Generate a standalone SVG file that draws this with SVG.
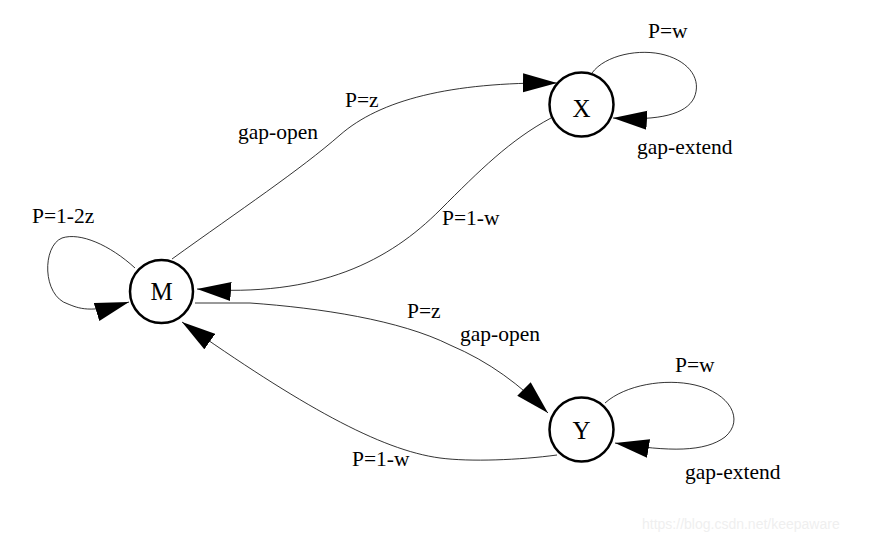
<svg xmlns="http://www.w3.org/2000/svg" width="873" height="542" viewBox="0 0 873 542">
<style>
.node{fill:#fff;stroke:#000;stroke-width:2.5}
.nl{font-family:"Liberation Serif",serif;font-size:25px;text-anchor:middle;fill:#000}
.lbl{font-family:"Liberation Serif",serif;font-size:21.5px;fill:#000}
.edge{fill:none;stroke:#000;stroke-width:0.8;marker-end:url(#ah)}
.wm{font-family:"Liberation Sans",sans-serif;font-size:14px;fill:#efefef}
</style>
<defs>
<marker id="ah" markerUnits="userSpaceOnUse" markerWidth="36" markerHeight="20" refX="34" refY="9.5" orient="auto" viewBox="0 0 36 20">
<path d="M0,0 L34,9.5 L0,19 z" fill="#000"/>
</marker>
</defs>
<rect width="873" height="542" fill="#fff"/>
<g id="connectors">
<path class="edge" d="M135,268 C110,245 80,232 62,238 C42,246 42,296 68,304 C78,308 90,314 129,302"/>
<path class="edge" d="M172,259 C240,210 300,170 340,135 C380,100 450,82 557,83"/>
<path class="edge" d="M551,118 C510,140 480,170 440,210 C390,260 320,298 197,289"/>
<path class="edge" d="M195,303 L250,303 C320,308 400,320 450,345 C490,362 520,385 548,413"/>
<path class="edge" d="M557,455 C520,460 470,462 440,458 C380,450 300,405 182,322"/>
<path class="edge" d="M592,73 C605,55 640,48 665,55 C690,62 702,80 694,98 C686,114 660,121 613,118"/>
<path class="edge" d="M605,403 C625,385 665,378 695,385 C730,393 745,420 725,437 C705,452 670,452 615,443"/>
</g>
<g id="edge-labels">
<text class="lbl" x="32" y="223">P=1-2z</text>
<text class="lbl" x="345" y="107">P=z</text>
<text class="lbl" x="238" y="139">gap-open</text>
<text class="lbl" x="442" y="225">P=1-w</text>
<text class="lbl" x="648" y="38">P=w</text>
<text class="lbl" x="637" y="154">gap-extend</text>
<text class="lbl" x="407" y="318">P=z</text>
<text class="lbl" x="460" y="341">gap-open</text>
<text class="lbl" x="352" y="466">P=1-w</text>
<text class="lbl" x="675" y="372">P=w</text>
<text class="lbl" x="685" y="479">gap-extend</text>
</g>
<g id="node-M">
<circle class="node" cx="161.5" cy="291.5" r="31.5"/>
<text class="nl" x="161.5" y="300">M</text>
</g>
<g id="node-X">
<circle class="node" cx="581.5" cy="104.5" r="32"/>
<text class="nl" x="581.5" y="117">X</text>
</g>
<g id="node-Y">
<circle class="node" cx="581.5" cy="429.5" r="32"/>
<text class="nl" x="581.5" y="439">Y</text>
</g>
<text class="wm" x="642" y="529">https://blog.csdn.net/keepaware</text>
</svg>
